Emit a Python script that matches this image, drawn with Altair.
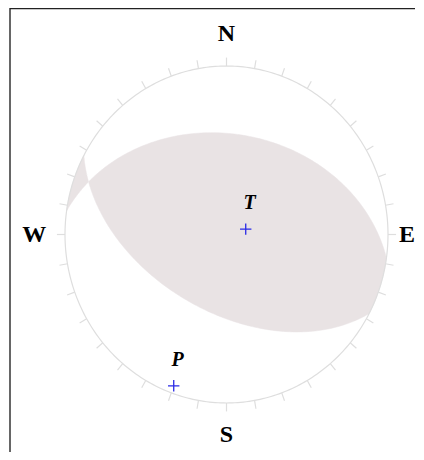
import numpy as np
import pandas as pd
import altair as alt

# ---- data ----
plane_strike = [118, 278]      # nodal plane strikes (deg)
plane_dip = [52, 40]           # nodal plane dips (deg)
axis_name = ["T", "P"]
axis_trend = [75, 200]
axis_plunge = [80, 5]
cardinal = ["N", "E", "S", "W"]
cardinal_az = [0, 90, 180, 270]
tick_az = list(range(0, 360, 10))

FILL = "#e9e3e4"
RIM = "#dedede"
BLUE = "#2a2ae6"

S2 = np.sqrt(2.0)


def xy_from_vec(v):
    n, e, d = v
    if d < 0:
        n, e, d = -n, -e, -d
    pl = np.arcsin(np.clip(d, -1, 1))
    tr = np.arctan2(e, n)
    r = S2 * np.sin((np.pi / 2 - pl) / 2)
    return r * np.sin(tr), r * np.cos(tr)


def basis(s, d):
    s, d = np.radians(s), np.radians(d)
    sv = np.array([np.cos(s), np.sin(s), 0.0])
    dv = np.array([np.cos(d) * np.cos(s + np.pi / 2), np.cos(d) * np.sin(s + np.pi / 2), np.sin(d)])
    return sv, dv


def plane_pts(s, d, t0, t1, n=120):
    sv, dv = basis(s, d)
    out = []
    for t in np.linspace(t0, t1, n):
        v = np.cos(t) * sv + np.sin(t) * dv
        out.append(xy_from_vec(v))
    return out


def arc_pts(a0, a1, n=20):
    return [(np.sin(np.radians(a)), np.cos(np.radians(a))) for a in np.linspace(a0, a1, n)]


# null axis = intersection of the two planes
svA, dvA = basis(plane_strike[0], plane_dip[0])
svB, dvB = basis(plane_strike[1], plane_dip[1])
nA = np.cross(svA, dvA)
nB = np.cross(svB, dvB)
X = np.cross(nA, nB)
if X[2] < 0:
    X = -X
tA = np.arctan2(X @ dvA, X @ svA)
tB = np.arctan2(X @ dvB, X @ svB)

endB = plane_strike[1] + 180
startA = plane_strike[0]
lens = (plane_pts(plane_strike[1], plane_dip[1], tB, np.pi)
        + arc_pts(endB % 360, startA)
        + plane_pts(plane_strike[0], plane_dip[0], 0, tA))
sliver = (plane_pts(plane_strike[0], plane_dip[0], tA, np.pi)
          + arc_pts(startA + 180, plane_strike[1])
          + plane_pts(plane_strike[1], plane_dip[1], 0, tB))

rows = []
for name, pts in (("lens", lens), ("sliver", sliver)):
    for i, (x, y) in enumerate(pts):
        rows.append({"part": name, "i": i, "x": x, "y": y})
poly_df = pd.DataFrame(rows)

circ = arc_pts(0, 360, 361)
circ_df = pd.DataFrame({"i": range(len(circ)), "x": [p[0] for p in circ], "y": [p[1] for p in circ]})

TL = 0.05
tick_df = pd.DataFrame({
    "x": [np.sin(np.radians(a)) for a in tick_az],
    "y": [np.cos(np.radians(a)) for a in tick_az],
    "x2": [(1 + TL) * np.sin(np.radians(a)) for a in tick_az],
    "y2": [(1 + TL) * np.cos(np.radians(a)) for a in tick_az],
})

ax_xy = [xy_from_vec(np.array([np.cos(np.radians(p)) * np.cos(np.radians(t)),
                               np.cos(np.radians(p)) * np.sin(np.radians(t)),
                               np.sin(np.radians(p))]))
         for t, p in zip(axis_trend, axis_plunge)]
axes_df = pd.DataFrame({"name": axis_name, "x": [a[0] for a in ax_xy], "y": [a[1] for a in ax_xy]})

# ---- layout: plot area 408x444, centre / radii in pixels ----
W, H = 408, 444
cx, cy = 218.5, 226.5
rx, ry = 161.5, 168.5
xdom = [-cx / rx, (W - cx) / rx]
ydom = [-(H - cy) / ry, cy / ry]

LR = 1.19
xmax_lab = (W - cx - 9) / rx   # keep the E label inside the drawing
card_df = pd.DataFrame({
    "name": cardinal,
    "x": [min(LR * np.sin(np.radians(a)), xmax_lab) for a in cardinal_az],
    "y": [LR * np.cos(np.radians(a)) for a in cardinal_az],
})

xs = alt.Scale(domain=xdom, nice=False, zero=False)
ys = alt.Scale(domain=ydom, nice=False, zero=False)
X_ = lambda f: alt.X(f, type="quantitative", scale=xs, axis=None)
Y_ = lambda f: alt.Y(f, type="quantitative", scale=ys, axis=None)

shade = alt.Chart(poly_df).mark_line(filled=True, fill=FILL, stroke=FILL, strokeWidth=0.5).encode(
    x=X_("x"), y=Y_("y"), order="i:Q", detail="part:N")

rim = alt.Chart(circ_df).mark_line(stroke=RIM, strokeWidth=1.2).encode(
    x=X_("x"), y=Y_("y"), order="i:Q")

ticks = alt.Chart(tick_df).mark_rule(stroke=RIM, strokeWidth=1.2).encode(
    x=X_("x"), y=Y_("y"), x2="x2", y2="y2")

plus = alt.Chart(axes_df).mark_point(
    shape="M -1 0 L 1 0 M 0 -1 L 0 1", filled=False, stroke=BLUE, strokeWidth=1.3, size=130, opacity=1
).encode(x=X_("x"), y=Y_("y"))

axlab = alt.Chart(axes_df).mark_text(
    font="Liberation Serif", fontSize=20, fontWeight="bold", fontStyle="italic",
    color="black", dx=4, dy=-26, baseline="middle", align="center"
).encode(x=X_("x"), y=Y_("y"), text="name:N")

cardlab = alt.Chart(card_df).mark_text(
    font="Liberation Serif", fontSize=24, fontWeight="bold", color="black",
    baseline="middle", align="center"
).encode(x=X_("x"), y=Y_("y"), text="name:N")

frame_df = pd.DataFrame({"k": [0]})
left = alt.Chart(frame_df).mark_rule(color="#333333", strokeWidth=1.5).encode(
    x=alt.value(2), y=alt.value(0), y2=alt.value(H))
top = alt.Chart(frame_df).mark_rule(color="#222222", strokeWidth=1.5).encode(
    x=alt.value(2), x2=alt.value(407), y=alt.value(0.5))

chart = alt.layer(shade, rim, ticks, plus, axlab, cardlab, left, top).properties(
    width=W, height=H, padding=0, autosize=alt.AutoSizeParams(type="none")
).configure_view(strokeWidth=0)

chart.save("out.html", embed_options={"renderer": "svg", "actions": False})
